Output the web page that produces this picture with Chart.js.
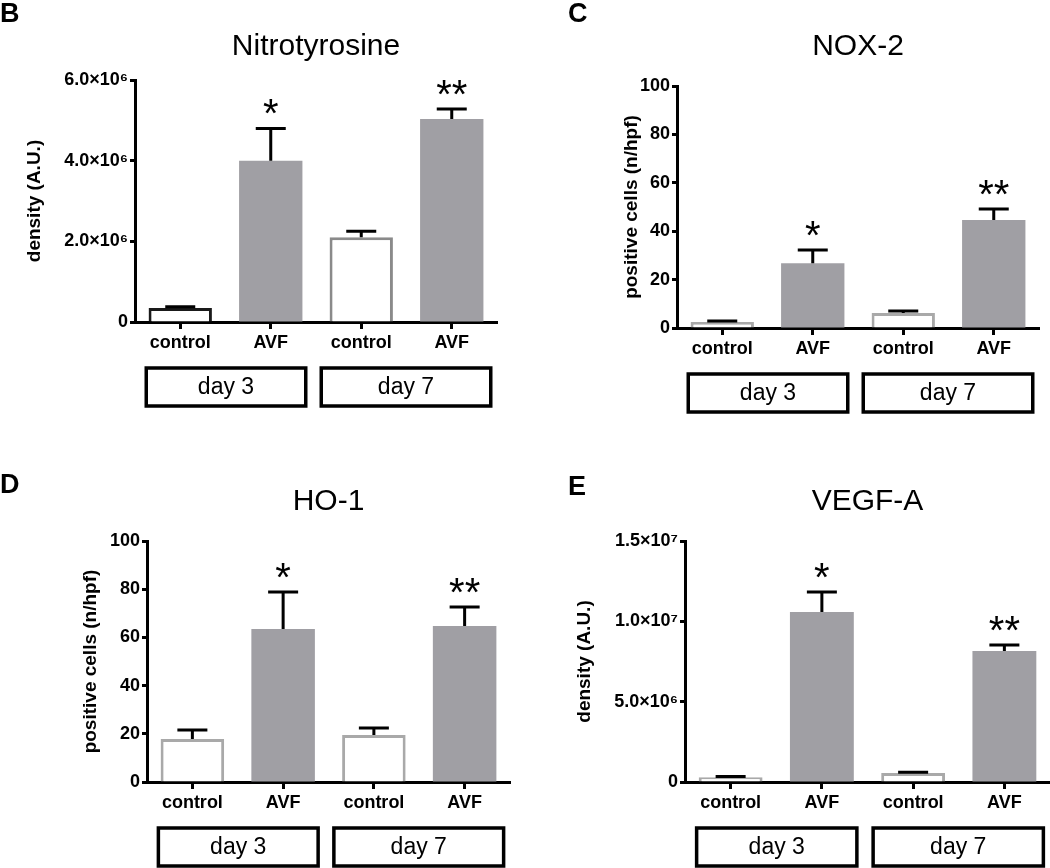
<!DOCTYPE html>
<html>
<head>
<meta charset="utf-8">
<script src="https://cdn.jsdelivr.net/npm/chart.js@4.4.1/dist/chart.umd.min.js"></script>
<style>
  body { margin: 0; background: #fff; }
  .panel { position: absolute; }
</style>
</head>
<body>
<div class="panel" style="left:0;top:0"><canvas id="nitro" width="525" height="430"></canvas></div>
<div class="panel" style="left:525px;top:0"><canvas id="nox" width="525" height="430"></canvas></div>
<div class="panel" style="left:0;top:430px"><canvas id="ho" width="525" height="438"></canvas></div>
<div class="panel" style="left:525px;top:430px"><canvas id="vegf" width="525" height="438"></canvas></div>
<script>
// data
const categories = ["control", "AVF", "control", "AVF"];
const groups = ["day 3", "day 7"];
const stars = ["", "*", "", "**"];

const nitroMean = [0.35e6, 4.0e6, 2.1e6, 5.03e6];
const nitroErr = [0.03e6, 0.8e6, 0.15e6, 0.25e6];
const noxMean = [2.5, 26.8, 6.2, 44.6];
const noxErr = [0.4, 5.4, 0.8, 4.6];
const hoMean = [17.8, 63.5, 19.5, 64.7];
const hoErr = [3.8, 15.3, 2.9, 7.9];
const vegfMean = [0.3e6, 10.58e6, 0.56e6, 8.15e6];
const vegfErr = [0.05e6, 1.25e6, 0.05e6, 0.38e6];

const FONT = "'Liberation Sans', Arial, sans-serif";
const AVF_GREY = "#a09fa4";

const SUP = { "0": "⁰", "1": "¹", "2": "²", "3": "³", "4": "⁴", "5": "⁵", "6": "⁶", "7": "⁷", "8": "⁸", "9": "⁹" };
function sciLabel(v) {
    if (v === 0) return "0";
    const e = Math.floor(Math.log10(v) + 1e-9);
    const m = (v / Math.pow(10, e)).toFixed(1);
    return m + "×10" + String(e).split("").map(d => SUP[d]).join("");
}

// error bars, stars, day boxes and panel letter
const extras = {
    id: "extras",
    afterDatasetsDraw(chart, args, opts) {
        const ctx = chart.ctx;
        const y = chart.scales.y;
        const x = chart.scales.x;
        const meta = chart.getDatasetMeta(0);
        ctx.save();
        ctx.strokeStyle = "#000";
        ctx.fillStyle = "#000";
        ctx.lineWidth = 3;
        opts.mean.forEach((m, i) => {
            const bx = meta.data[i].x;
            const top = y.getPixelForValue(m + opts.err[i]);
            const base = y.getPixelForValue(m);
            ctx.beginPath();
            ctx.moveTo(bx, base);
            ctx.lineTo(bx, top);
            ctx.moveTo(bx - 15, top);
            ctx.lineTo(bx + 15, top);
            ctx.stroke();
            if (stars[i]) {
                ctx.font = "40px " + FONT;
                ctx.textAlign = "center";
                ctx.textBaseline = "alphabetic";
                ctx.fillText(stars[i], bx, top - 1);
            }
        });

        // day boxes under the categories
        const b = chart.chartArea.bottom;
        const spans = [[x.getPixelForValue(0) - 34, x.getPixelForValue(1) + 35],
                       [x.getPixelForValue(2) - 40, x.getPixelForValue(3) + 39]];
        ctx.lineWidth = 3.5;
        ctx.font = "23px " + FONT;
        ctx.textAlign = "center";
        ctx.textBaseline = "middle";
        spans.forEach((s, g) => {
            ctx.strokeRect(s[0], b + 46, s[1] - s[0], 38);
            ctx.fillText(groups[g], (s[0] + s[1]) / 2, b + 66);
        });

        ctx.font = "bold 27px " + FONT;
        ctx.textAlign = "left";
        ctx.textBaseline = "alphabetic";
        ctx.fillText(opts.letter, opts.lx, opts.ly);
        ctx.restore();
    }
};

function makePanel(id, p) {
    new Chart(document.getElementById(id), {
        type: "bar",
        data: {
            labels: categories,
            datasets: [{
                data: p.mean,
                backgroundColor: ["#ffffff", AVF_GREY, "#ffffff", AVF_GREY],
                borderColor: p.borders,
                borderWidth: [3, 0, 3, 0],
                borderSkipped: "start",
                categoryPercentage: 1,
                barPercentage: 0.7
            }]
        },
        options: {
            responsive: false,
            animation: false,
            layout: { padding: p.pad },
            plugins: {
                legend: { display: false },
                tooltip: { enabled: false },
                title: {
                    display: true,
                    text: p.title,
                    fullSize: false,
                    color: "#000",
                    font: { family: FONT, size: 30, weight: "normal", lineHeight: 1.2 },
                    padding: p.titlePad
                },
                extras: { mean: p.mean, err: p.err, letter: p.letter, lx: p.lx, ly: p.ly }
            },
            scales: {
                x: {
                    afterFit: s => { s.height = 30; },
                    border: { display: true, color: "#000", width: 3 },
                    grid: { offset: false, drawOnChartArea: false, drawTicks: true, tickLength: 7, tickColor: "#000", tickWidth: 3 },
                    ticks: { color: "#000", padding: 3, font: { family: FONT, size: 18, weight: "bold" } }
                },
                y: {
                    min: 0,
                    max: p.max,
                    afterFit: s => { s.width = p.yWidth; },
                    border: { display: true, color: "#000", width: 3 },
                    grid: { drawOnChartArea: false, drawTicks: true, tickLength: 5, tickColor: "#000", tickWidth: 3 },
                    ticks: { stepSize: p.step, color: "#000", padding: 2, font: { family: FONT, size: 18, weight: "bold" }, callback: p.fmt },
                    title: {
                        display: true,
                        text: p.yTitle,
                        color: "#000",
                        padding: 0,
                        font: { family: FONT, size: 19, weight: "bold", lineHeight: 1.2 }
                    }
                }
            }
        },
        plugins: [extras]
    });
}

makePanel("nitro", {
    title: "Nitrotyrosine", yTitle: "density (A.U.)", letter: "B", lx: 0, ly: 22,
    mean: nitroMean, err: nitroErr, max: 6e6, step: 2e6, fmt: sciLabel,
    borders: ["#1a1a1a", AVF_GREY, "#8a8a8a", AVF_GREY],
    yWidth: 111.4, pad: { left: 23.6, right: 28, top: 0, bottom: 78 },
    titlePad: { top: 29, bottom: 15 }
});
makePanel("nox", {
    title: "NOX-2", yTitle: "positive cells (n/hpf)", letter: "C", lx: 43, ly: 22,
    mean: noxMean, err: noxErr, max: 100, step: 20, fmt: v => v,
    borders: ["#a9a9a9", AVF_GREY, "#a9a9a9", AVF_GREY],
    yWidth: 56.4, pad: { left: 95.6, right: 11, top: 0, bottom: 72 },
    titlePad: { top: 29, bottom: 21 }
});
makePanel("ho", {
    title: "HO-1", yTitle: "positive cells (n/hpf)", letter: "D", lx: 0, ly: 63,
    mean: hoMean, err: hoErr, max: 100, step: 20, fmt: v => v,
    borders: ["#a9a9a9", AVF_GREY, "#a9a9a9", AVF_GREY],
    yWidth: 67.4, pad: { left: 79.6, right: 15, top: 0, bottom: 56 },
    titlePad: { top: 54, bottom: 21 }
});
makePanel("vegf", {
    title: "VEGF-A", yTitle: "density (A.U.)", letter: "E", lx: 43, ly: 65,
    mean: vegfMean, err: vegfErr, max: 1.5e7, step: 5e6, fmt: sciLabel,
    borders: ["#a9a9a9", AVF_GREY, "#a9a9a9", AVF_GREY],
    yWidth: 111.4, pad: { left: 48.6, right: 0, top: 0, bottom: 56 },
    titlePad: { top: 54, bottom: 21 }
});
</script>
</body>
</html>
